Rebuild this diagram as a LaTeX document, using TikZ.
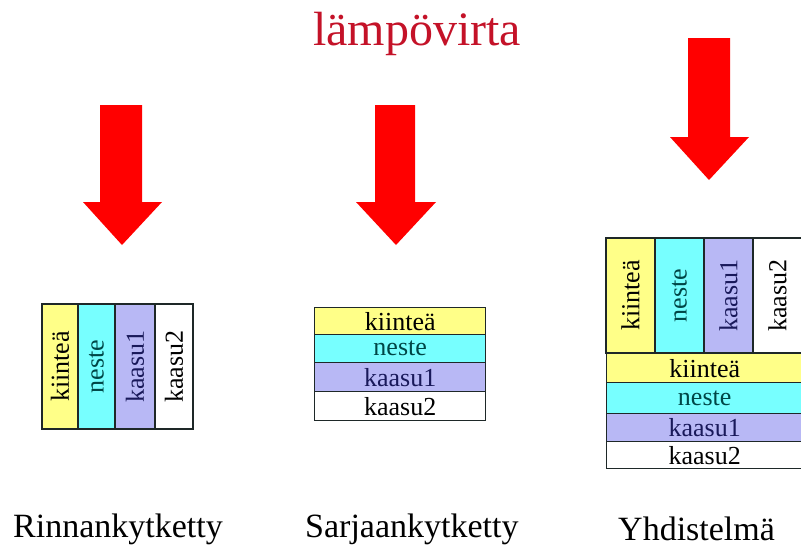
\documentclass[tikz,border=0pt]{standalone}
\usepackage{fontspec}
\setmainfont{Liberation Serif}
\definecolor{heatred}{RGB}{255,0,0}
\definecolor{titlered}{RGB}{196,18,40}
\definecolor{solidc}{RGB}{255,255,136}
\definecolor{liquidc}{RGB}{119,255,255}
\definecolor{gasc}{RGB}{184,184,245}
\definecolor{edgec}{RGB}{30,40,40}
\definecolor{liquidtxt}{RGB}{0,70,70}
\definecolor{gastxt}{RGB}{25,25,90}
\tikzset{
  cell/.style={draw=edgec, line width=1.4pt, inner sep=0pt,
    font=\fontsize{26}{26}\selectfont},
  solid/.style={cell, fill=solidc},
  liquid/.style={cell, fill=liquidc, text=liquidtxt},
  gasA/.style={cell, fill=gasc, text=gastxt},
  gasB/.style={cell, fill=white},
  heatarrow/.style={fill=heatred, draw=none},
  caption/.style={anchor=base west, inner sep=0pt,
    font=\fontsize{34}{34}\selectfont},
}
\begin{document}
\begin{tikzpicture}[x=1pt, y=-1pt]
\useasboundingbox[fill=white] (0,0) rectangle (801,550);
\clip (0,0) rectangle (801,550);

% title
\node[anchor=base west, inner sep=0pt, text=titlered,
      font=\fontsize{48}{48}\selectfont] (title) at (313,45) {lämpövirta};

% heat flow arrows
\path[heatarrow] (100,105) -- (142,105) -- (142,202) -- (162,202)
  -- (122,245) -- (83,202) -- (100,202) -- cycle;
\path[heatarrow] (375,105) -- (415,105) -- (415,202) -- (436,202)
  -- (396,245) -- (356,202) -- (375,202) -- cycle;
\path[heatarrow] (688,38) -- (730,38) -- (730,137) -- (749,137)
  -- (709,180) -- (670,137) -- (688,137) -- cycle;

% parallel layers
\node[solid, rotate=90, minimum width=125pt, minimum height=36pt] (p1) at (60,366.5) {kiinteä};
\node[liquid, rotate=90, minimum width=125pt, minimum height=37pt] (p2) at (96.5,366.5) {neste};
\node[gasA, rotate=90, minimum width=125pt, minimum height=40pt] (p3) at (135,366.5) {kaasu1};
\node[gasB, rotate=90, minimum width=125pt, minimum height=38pt] (p4) at (174,366.5) {kaasu2};

% series layers
\node[solid, anchor=north west, minimum width=171pt, minimum height=27pt] (s1) at (314,307) {kiinteä};
\node[liquid, anchor=north west, minimum width=171pt, minimum height=28pt] (s2) at (314,334) {neste};
\node[gasA, anchor=north west, minimum width=171pt, minimum height=29pt] (s3) at (314,362) {kaasu1};
\node[gasB, anchor=north west, minimum width=171pt, minimum height=29pt] (s4) at (314,391) {kaasu2};

% combined: parallel block over series block
\node[solid, rotate=90, minimum width=115pt, minimum height=49pt] (c1) at (630.5,295.5) {kiinteä};
\node[liquid, rotate=90, minimum width=115pt, minimum height=49pt] (c2) at (679.5,295.5) {neste};
\node[gasA, rotate=90, minimum width=115pt, minimum height=49pt] (c3) at (728.5,295.5) {kaasu1};
\node[gasB, rotate=90, minimum width=115pt, minimum height=49pt] (c4) at (777.5,295.5) {kaasu2};
\node[solid, anchor=north west, minimum width=196pt, minimum height=29pt] (c5) at (606,353) {kiinteä};
\node[liquid, anchor=north west, minimum width=196pt, minimum height=31pt] (c6) at (606,382) {neste};
\node[gasA, anchor=north west, minimum width=196pt, minimum height=28pt] (c7) at (606,413) {kaasu1};
\node[gasB, anchor=north west, minimum width=196pt, minimum height=27pt] (c8) at (606,441) {kaasu2};

% captions
\node[caption] (cap1) at (13,537) {Rinnankytketty};
\node[caption] (cap2) at (305,537) {Sarjaankytketty};
\node[caption] (cap3) at (618,540) {Yhdistelmä};
\end{tikzpicture}
\end{document}
